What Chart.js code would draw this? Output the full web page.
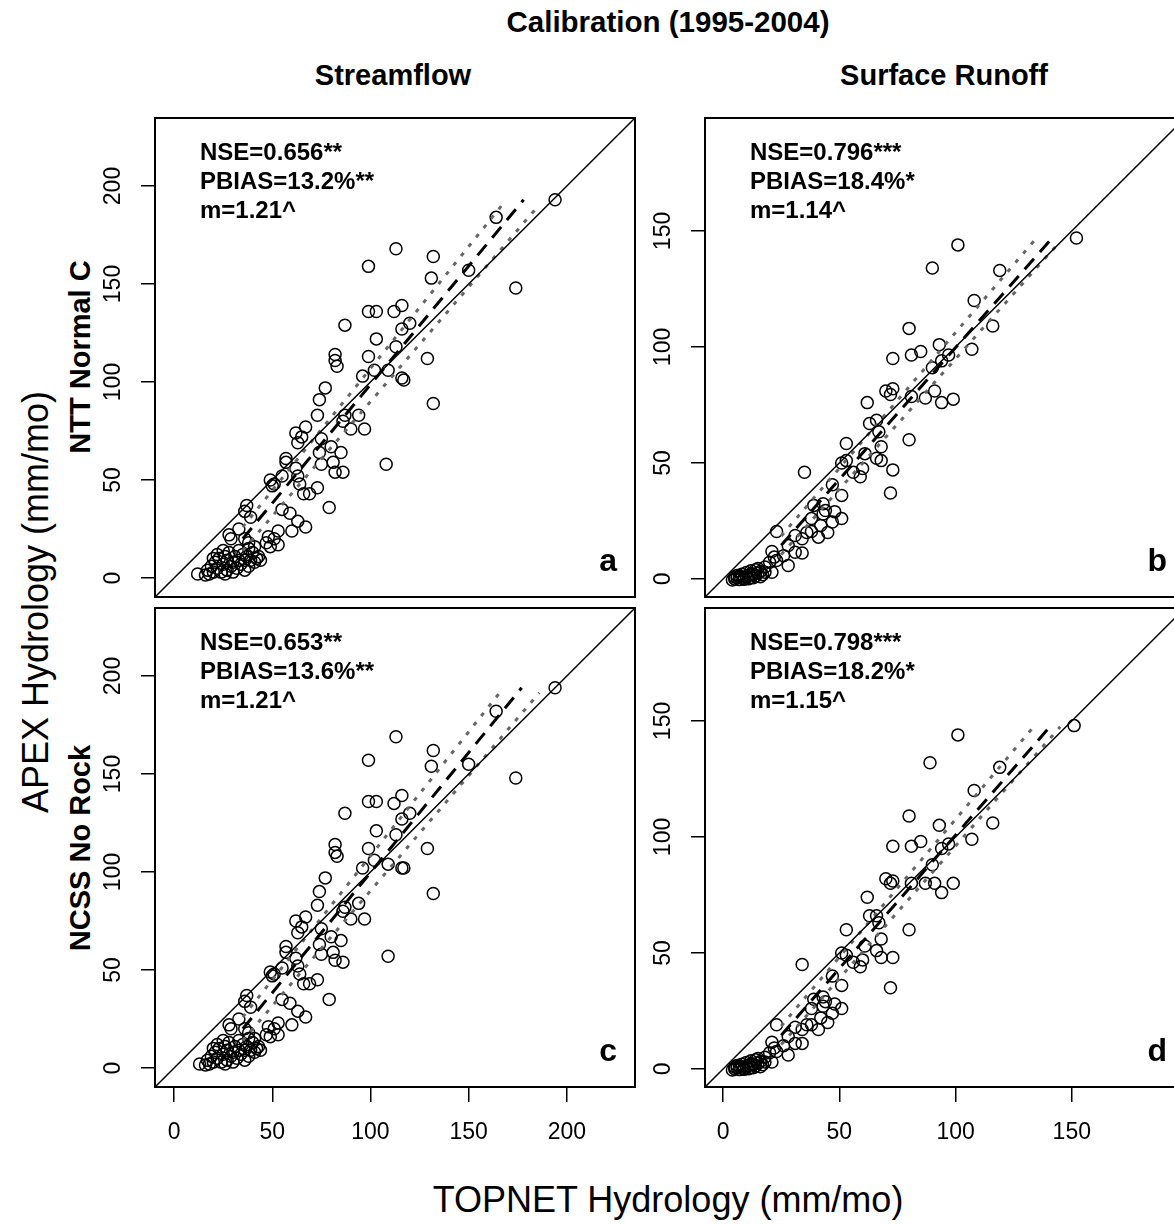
<!DOCTYPE html>
<html>
<head>
<meta charset="utf-8">
<script src="https://cdn.jsdelivr.net/npm/chart.js@4.4.0/dist/chart.umd.min.js"></script>
<style>
  html, body { margin: 0; padding: 0; background: #fff; overflow: hidden; width: 1174px; height: 1224px; }
  .txt { position: absolute; font-family: 'Liberation Sans', Arial, sans-serif; color: #000; white-space: nowrap; transform: translate(-50%, -50%); }
  .rot { transform: translate(-50%, -50%) rotate(-90deg); }
  .b { font-weight: bold; }
  canvas { position: absolute; }
</style>
</head>
<body>
<div class="txt b" style="left:668px;top:22px;font-size:29.5px">Calibration (1995-2004)</div>
<div class="txt b" style="left:393px;top:75px;font-size:29px">Streamflow</div>
<div class="txt b" style="left:944px;top:75px;font-size:29px">Surface Runoff</div>
<div class="txt rot" style="left:36px;top:602px;font-size:36px">APEX Hydrology (mm/mo)</div>
<div class="txt rot b" style="left:80px;top:357px;font-size:29px">NTT Normal C</div>
<div class="txt rot b" style="left:80px;top:848px;font-size:29px">NCSS No Rock</div>
<div class="txt" style="left:668px;top:1200px;font-size:36px">TOPNET Hydrology (mm/mo)</div>

<canvas id="pa" width="550" height="500" style="left:95px;top:108px"></canvas>
<canvas id="pb" width="550" height="500" style="left:645px;top:108px"></canvas>
<canvas id="pc" width="550" height="560" style="left:95px;top:598px"></canvas>
<canvas id="pd" width="550" height="560" style="left:645px;top:598px"></canvas>

<script>
// axis limits and ticks (same on x and y)
const streamLimits = [-9.7, 234.7];
const runoffLimits = [-7.8, 198.7];
const streamTicks = [0, 50, 100, 150, 200];
const runoffTicks = [0, 50, 100, 150];

// panel a: streamflow, NTT Normal C  [TOPNET, APEX]
const streamNtt = [
  [194,193],[164,184],[132,164],[131,153],[150,157],[174,148],[113,168],[99,159],[99,136],[103,136],
  [112,136],[87,129],[116,139],[120,130],[116,127],[103,122],[113,118],[82,114],[82,111],[83,108],
  [99,113],[129,112],[116,102],[117,101],[132,89],[102,106],[96,103],[109,106],[77,97],[74,91],
  [73,83],[87,83],[94,83],[90,76],[97,76],[86,80],[67,77],[62,74],[65,72],[63,69],
  [75,71],[80,67],[85,64],[74,64],[57,61],[57,59],[62,56],[75,58],[81,59],[82,54],
  [86,54],[55,52],[49,50],[51,48],[50,47],[63,52],[64,48],[66,43],[69,43],[73,46],
  [79,36],[37,37],[36,34],[39,31],[55,35],[59,33],[63,29],[67,26],[60,24],[33,25],
  [28,22],[29,20],[36,20],[38,18],[48,21],[51,20],[53,24],[47,18],[49,16],[53,17],
  [41,16],[108,58],
  [12,2],[16,1.5],[17,4],[18,2],[19,6],[20,3],[21,8],[22,5],[23,10],[24,3],
  [25,7],[26,11],[27,4],[27,9],[28,13],[29,6],[30,8],[30,3],[31,11],[32,5],
  [33,9],[33,14],[34,7],[35,12],[36,4],[36,9],[37,11],[38,6],[38,15],[39,9],
  [40,13],[41,8],[42,10],[43,11],[44,9],[22,12],[25,14],[20,10],[26,2]
];
const streamNttFit = [[35,20],[178,193]];
const streamNttUpper = [[35,26],[168,191.5]];
const streamNttLower = [[35,14],[186,190.5]];
const streamNttStats = ['NSE=0.656**', 'PBIAS=13.2%**', 'm=1.21^'];

// panel b: surface runoff, NTT Normal C
const runoffNtt = [
  [152,147],[101,144],[119,133],[90,134],[108,120],[116,109],[80,108],[93,101],[85,98],[81,96.5],
  [73,95],[107,99],[97,96.5],[94,94],[90,91],[91,81],[94,76],[99,77.5],[70,81],[73,82],
  [72,79.5],[62,76],[81,78.6],[87,78],[63,67],[66,68.4],[67,63.4],[80,60],[53,58.4],[68,57],
  [61,54],[66,52],[68,51],[51,50],[53,51],[35,46],[56,46],[60,47.6],[59,44],[73,47],
  [72,37],[47,40.6],[51,36],[39,31.7],[43,32.4],[44,29.5],[43,28],[48,29],[51,26],[47,24.5],
  [38,26],[42,23],[45,20],[23,20.4],[31,18.7],[36,20],[38,20.4],[34,17.3],[41,18],[31,11.5],
  [34,11.2],[28,14.4],[26,10],[28,5.8],[21,11.8],[22,9.4],[23,7.9],[20,7.2],[21,2.9],[18,5.1],
  [18,2.9],
  [4,-0.5],[5,0],[6,0.5],[7,-0.3],[8,0.8],[9,0.2],[10,1],[11,1.5],[12,0.6],[13,2],
  [14,1.2],[15,2.5],[16,3.2],[17,1.8],[6,1.5],[8,2],[10,2.8],[12,3.5],[14,4],[9,-0.2],
  [11,0.1],[13,0.5],[15,4.5],[16,0.9],[7,1.2],[5,0.8],[12,2.2]
];
const runoffNttFit = [[25,14.5],[141,146.3]];
const runoffNttUpper = [[25,18.5],[134,146]];
const runoffNttLower = [[25,10.5],[145,145.5]];
const runoffNttStats = ['NSE=0.796***', 'PBIAS=18.4%*', 'm=1.14^'];

// panel c: streamflow, NCSS No Rock
const streamNcss = [
  [194,194],[164,182],[132,162],[131,154],[150,155],[174,148],[113,169],[99,157],[99,136],[103,136],
  [112,135],[87,130],[116,139],[120,130],[116,127],[103,121],[113,119],[82,114],[82,110],[83,108],
  [99,112],[129,112],[116,102],[117,102],[132,89],[102,106],[96,102],[109,104],[77,97],[74,90],
  [73,83],[87,82],[94,84],[90,76],[97,76],[86,80],[67,77],[62,75],[65,72],[63,69],
  [75,71],[80,67],[85,65],[74,63],[57,62],[57,59],[62,56],[75,58],[81,59],[82,55],
  [86,54],[55,51],[49,49],[51,48],[50,47],[63,52],[64,48],[66,43],[69,43],[73,45],
  [79,35],[37,37],[36,34],[39,31],[55,35],[59,33],[63,29],[67,26],[60,22],[33,25],
  [28,22],[29,20],[36,20],[38,18],[48,21],[51,20],[53,23],[47,17],[49,16],[53,17],
  [41,15],[109,57],
  [13,2],[16,1.5],[17,4],[18,2],[19,6],[20,3],[21,8],[22,5],[23,10],[24,3],
  [25,7],[26,11],[27,4],[27,9],[28,13],[29,6],[30,8],[30,3],[31,11],[32,5],
  [33,9],[33,14],[34,7],[35,12],[36,4],[36,9],[37,11],[38,6],[38,15],[39,9],
  [40,13],[41,8],[42,10],[43,11],[44,9],[22,12],[25,14],[20,10],[26,2]
];
const streamNcssFit = [[35,20],[177,194]];
const streamNcssUpper = [[35,26],[167,193]];
const streamNcssLower = [[35,14],[186,191.5]];
const streamNcssStats = ['NSE=0.653**', 'PBIAS=13.6%**', 'm=1.21^'];

// panel d: surface runoff, NCSS No Rock
const runoffNcss = [
  [151,148],[101,144],[119,130],[89,132],[108,120],[116,106],[80,109],[93,105],[85,98],[81,96],
  [73,96],[107,99],[97,97],[94,95],[90,88],[91,80],[94,76],[99,80],[70,82],[73,81],
  [72,80],[62,74],[81,80],[87,80],[63,66],[66,66],[67,63],[80,60],[53,60],[68,56],
  [61,53],[66,51],[68,48],[51,50],[53,49],[34,45],[56,46],[60,47],[59,44],[73,48],
  [72,35],[47,40],[51,36],[39,30],[43,31],[44,29],[43,27],[48,28],[51,26],[47,24],
  [38,26],[42,22],[45,20],[23,19],[31,18],[36,19],[38,19],[34,17],[41,17],[31,11],
  [34,11],[28,14],[26,10],[28,6],[21,11.5],[22,9],[23,7.5],[20,7],[21,3],[18,5],
  [18,3],
  [4,-0.5],[5,0],[6,0.5],[7,-0.3],[8,0.8],[9,0.2],[10,1],[11,1.5],[12,0.6],[13,2],
  [14,1.2],[15,2.5],[16,3.2],[17,1.8],[6,1.5],[8,2],[10,2.8],[12,3.5],[14,4],[9,-0.2],
  [11,0.1],[13,0.5],[15,4.5],[16,0.9],[7,1.2],[5,0.8],[12,2.2]
];
const runoffNcssFit = [[25,14.5],[141,148]];
const runoffNcssUpper = [[25,18.5],[134,148]];
const runoffNcssLower = [[25,10.5],[145,147.5]];
const runoffNcssStats = ['NSE=0.798***', 'PBIAS=18.2%*', 'm=1.15^'];

const fontFam = "'Liberation Sans', Arial, sans-serif";

function xy(arr) {
  return arr.map(p => ({ x: p[0], y: p[1] }));
}

function makePanel(id, pts, fit, upper, lower, limits, ticks, showX, stats, letter) {
  const lo = limits[0], hi = limits[1];

  // box, rotated y tick labels and panel text, R style
  const deco = {
    id: 'deco_' + id,
    afterDatasetsDraw(chart) {
      const ctx = chart.ctx;
      const a = chart.chartArea;
      ctx.save();
      ctx.strokeStyle = '#000';
      ctx.lineWidth = 2;
      ctx.strokeRect(a.left, a.top, a.right - a.left, a.bottom - a.top);

      ctx.fillStyle = '#000';
      ctx.font = '23px ' + fontFam;
      ctx.textAlign = 'center';
      ctx.textBaseline = 'alphabetic';
      ticks.forEach(v => {
        const py = chart.scales.y.getPixelForValue(v);
        ctx.save();
        ctx.translate(a.left - 35, py);
        ctx.rotate(-Math.PI / 2);
        ctx.fillText(String(v), 0, 0);
        ctx.restore();
      });

      ctx.font = 'bold 24px ' + fontFam;
      ctx.textAlign = 'left';
      stats.forEach((s, i) => ctx.fillText(s, a.left + 45, a.top + 42 + i * 29));

      ctx.font = 'bold 32px ' + fontFam;
      ctx.textAlign = 'right';
      ctx.fillText(letter, a.right - 18, a.bottom - 26);
      ctx.restore();
    }
  };

  const tickMarks = { drawOnChartArea: false, drawTicks: true, color: '#000', lineWidth: 1.5 };

  new Chart(document.getElementById(id), {
    type: 'scatter',
    data: {
      datasets: [
        { data: xy([[lo, lo], [hi, hi]]), showLine: true, borderColor: '#000', borderWidth: 1.5, pointRadius: 0 },
        { data: xy(fit), showLine: true, borderColor: '#000', borderWidth: 3, borderDash: [14, 9], pointRadius: 0 },
        { data: xy(upper), showLine: true, borderColor: '#666', borderWidth: 3, borderDash: [4, 8], pointRadius: 0 },
        { data: xy(lower), showLine: true, borderColor: '#666', borderWidth: 3, borderDash: [4, 8], pointRadius: 0 },
        { data: xy(pts), pointStyle: 'circle', pointRadius: 6, borderColor: '#000', borderWidth: 1.5, backgroundColor: 'rgba(0,0,0,0)' }
      ]
    },
    options: {
      responsive: false,
      animation: false,
      events: [],
      layout: { padding: { left: 0, top: 10, right: 10, bottom: showX ? 0 : 11 } },
      plugins: { legend: { display: false }, tooltip: { enabled: false } },
      scales: {
        x: {
          type: 'linear', min: lo, max: hi, display: showX,
          afterBuildTicks: s => { s.ticks = ticks.map(v => ({ value: v })); },
          afterFit: s => { s.height = showX ? 71 : 0; },
          grid: Object.assign({ tickLength: 15 }, tickMarks),
          border: { display: false },
          ticks: { color: '#000', font: { family: fontFam, size: 23 }, padding: 17, maxRotation: 0, autoSkip: false }
        },
        y: {
          type: 'linear', min: lo, max: hi,
          afterBuildTicks: s => { s.ticks = ticks.map(v => ({ value: v })); },
          afterFit: s => { s.width = 60; },
          grid: Object.assign({ tickLength: 14 }, tickMarks),
          border: { display: false },
          ticks: { display: false }
        }
      }
    },
    plugins: [deco]
  });
}

makePanel('pa', streamNtt, streamNttFit, streamNttUpper, streamNttLower, streamLimits, streamTicks, false, streamNttStats, 'a');
makePanel('pb', runoffNtt, runoffNttFit, runoffNttUpper, runoffNttLower, runoffLimits, runoffTicks, false, runoffNttStats, 'b');
makePanel('pc', streamNcss, streamNcssFit, streamNcssUpper, streamNcssLower, streamLimits, streamTicks, true, streamNcssStats, 'c');
makePanel('pd', runoffNcss, runoffNcssFit, runoffNcssUpper, runoffNcssLower, runoffLimits, runoffTicks, true, runoffNcssStats, 'd');
</script>
</body>
</html>
